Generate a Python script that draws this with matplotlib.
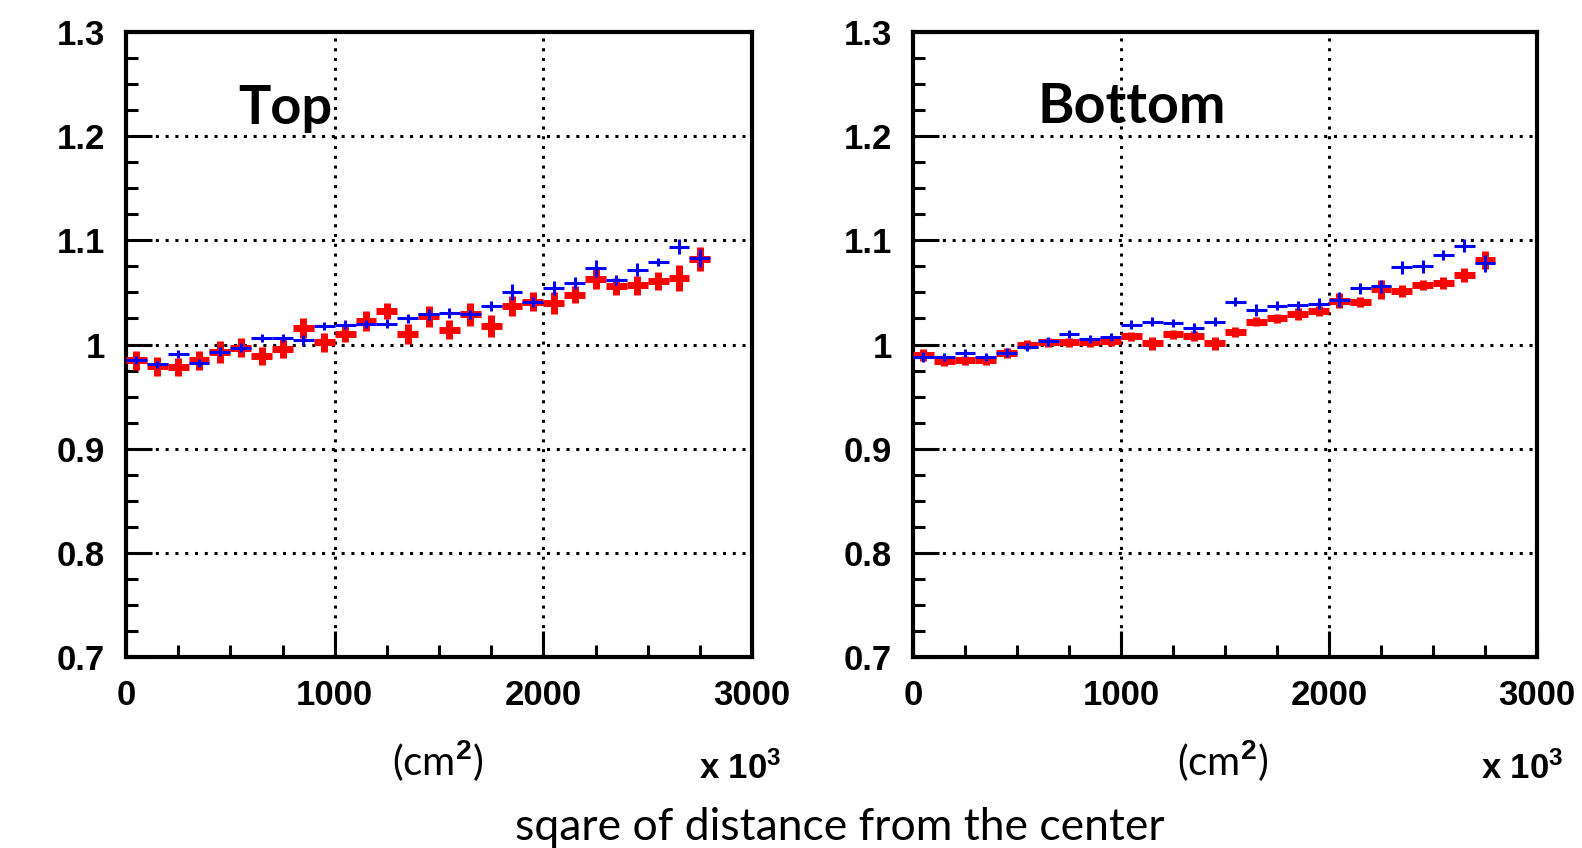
import matplotlib
matplotlib.use("Agg")
import matplotlib.pyplot as plt
from matplotlib.ticker import MultipleLocator, FixedLocator

# ---- data ----
bin_centers = [50, 150, 250, 350, 450, 550, 650, 750, 850, 950,
               1050, 1150, 1250, 1350, 1450, 1550, 1650, 1750, 1850, 1950,
               2050, 2150, 2250, 2350, 2450, 2550, 2650, 2750]
bin_half_width = 50

top_red = [0.985, 0.979, 0.978, 0.985, 0.993, 0.997, 0.989, 0.996, 1.016, 1.002,
           1.010, 1.023, 1.032, 1.010, 1.027, 1.014, 1.029, 1.018, 1.037, 1.041,
           1.040, 1.048, 1.063, 1.056, 1.057, 1.061, 1.064, 1.082]
top_red_err = [0.0091, 0.0091, 0.0087, 0.0091, 0.0104, 0.0093, 0.0083, 0.0093, 0.0093, 0.0088,
               0.0075, 0.0096, 0.0077, 0.0099, 0.0099, 0.0091, 0.0112, 0.0104, 0.0099, 0.0091,
               0.0106, 0.0084, 0.0099, 0.0080, 0.0091, 0.0088, 0.0123, 0.0112]
top_blue = [0.985, 0.981, 0.991, 0.982, 0.993, 0.997, 1.006, 1.006, 1.004, 1.018,
            1.019, 1.020, 1.020, 1.025, 1.029, 1.030, 1.029, 1.037, 1.050, 1.041,
            1.054, 1.059, 1.073, 1.062, 1.072, 1.079, 1.094, 1.083]
top_blue_err = [0.0037, 0.0032, 0.0035, 0.0040, 0.0045, 0.0043, 0.0037, 0.0040, 0.0048, 0.0040,
                0.0045, 0.0038, 0.0043, 0.0042, 0.0053, 0.0046, 0.0045, 0.0046, 0.0077, 0.0048,
                0.0067, 0.0058, 0.0084, 0.0048, 0.0060, 0.0038, 0.0072, 0.0084]

bot_red = [0.990, 0.984, 0.985, 0.985, 0.992, 1.000, 1.002, 1.002, 1.002, 1.003,
           1.008, 1.001, 1.010, 1.008, 1.001, 1.012, 1.022, 1.025, 1.029, 1.032,
           1.042, 1.041, 1.053, 1.051, 1.057, 1.059, 1.067, 1.081]
bot_red_err = [0.0058, 0.0045, 0.0043, 0.0043, 0.0051, 0.0045, 0.0043, 0.0043, 0.0043, 0.0043,
               0.0043, 0.0061, 0.0043, 0.0048, 0.0061, 0.0048, 0.0045, 0.0043, 0.0058, 0.0048,
               0.0072, 0.0048, 0.0091, 0.0058, 0.0048, 0.0058, 0.0067, 0.0085]
bot_blue = [0.988, 0.988, 0.992, 0.988, 0.992, 0.998, 1.003, 1.010, 1.005, 1.007,
            1.019, 1.022, 1.021, 1.016, 1.022, 1.041, 1.033, 1.037, 1.0375, 1.039,
            1.043, 1.054, 1.056, 1.074, 1.075, 1.086, 1.095, 1.078]
bot_blue_err = [0.0048, 0.0038, 0.0038, 0.0038, 0.0043, 0.0038, 0.0043, 0.0038, 0.0038, 0.0038,
                0.0043, 0.0043, 0.0038, 0.0051, 0.0045, 0.0045, 0.0058, 0.0043, 0.0045, 0.0053,
                0.0072, 0.0053, 0.0064, 0.0061, 0.0063, 0.0051, 0.0065, 0.0080]

panel_titles = ["Top", "Bottom"]
x_ticks = [0, 1000, 2000, 3000]
y_ticks = [0.7, 0.8, 0.9, 1.0, 1.1, 1.2, 1.3]
y_ticklabels = ["0.7", "0.8", "0.9", "1", "1.1", "1.2", "1.3"]
x_unit = "(cm$^{2}$)"
x_scale = "x 10$^{3}$"
x_label = "sqare of distance from the center"

# ---- style ----
tick_font = ["Liberation Sans", "DejaVu Sans"]
text_font = ["Lato", "DejaVu Sans"]

W, H = 1582, 848
fig = plt.figure(figsize=(W / 100, H / 100), dpi=100)

axes_px = [(126, 752), (913, 1537)]
y_top, y_bot = 32, 657

panels = [
    (top_red, top_red_err, top_blue, top_blue_err),
    (bot_red, bot_red_err, bot_blue, bot_blue_err),
]
title_pos = [(0.180, 0.853), (0.200, 0.855)]
title_sizes = [39, 40]

for i, ((x0, x1), (rv, re, bv, be)) in enumerate(zip(axes_px, panels)):
    ax = fig.add_axes([x0 / W, 1 - y_bot / H, (x1 - x0) / W, (y_bot - y_top) / H])
    ax.set_xlim(0, 3000)
    ax.set_ylim(0.7, 1.3)

    # grid (dotted)
    for gx in x_ticks[1:-1]:
        ax.axvline(gx, color="black", lw=2.2, linestyle=(0, (1.0, 2.2)),
                   dash_capstyle="butt", zorder=1)
    for gy in y_ticks[1:-1]:
        ax.axhline(gy, color="black", lw=2.2, linestyle=(0, (1.0, 2.2)),
                   dash_capstyle="butt", zorder=1)

    ax.errorbar(bin_centers, rv, xerr=bin_half_width, yerr=re, fmt="none",
                ecolor="#ff0000", elinewidth=5.0, capsize=0, zorder=3)
    ax.errorbar(bin_centers, bv, xerr=bin_half_width, yerr=be, fmt="none",
                ecolor="#0000ff", elinewidth=2.2, capsize=0, zorder=4)

    ax.xaxis.set_major_locator(FixedLocator(x_ticks))
    ax.xaxis.set_minor_locator(MultipleLocator(250))
    ax.yaxis.set_major_locator(FixedLocator(y_ticks))
    ax.yaxis.set_minor_locator(MultipleLocator(0.025))
    ax.set_xticklabels([str(t) for t in x_ticks])
    ax.set_yticklabels(y_ticklabels)

    ax.tick_params(which="both", direction="in", top=False, right=False, width=2.2,
                   color="black")
    ax.tick_params(which="major", length=19)
    ax.tick_params(which="minor", length=8.5)
    ax.tick_params(axis="x", which="major", pad=16)
    ax.tick_params(axis="y", which="major", pad=15)
    for lab in ax.get_xticklabels() + ax.get_yticklabels():
        lab.set_fontfamily(tick_font)
        lab.set_fontweight("bold")
        lab.set_fontsize(25)

    for sp in ax.spines.values():
        sp.set_linewidth(3.0)
        sp.set_color("black")

    ax.text(title_pos[i][0], title_pos[i][1], panel_titles[i], transform=ax.transAxes,
            fontsize=title_sizes[i], fontweight="bold", family=text_font,
            ha="left", va="baseline")

plt.rcParams["mathtext.fontset"] = "custom"
plt.rcParams["mathtext.rm"] = "Lato"
plt.rcParams["mathtext.it"] = "Lato"
# unit labels
for cx in (438, 1223):
    fig.text(cx / W, 1 - 775 / H, x_unit, ha="center", va="baseline",
             fontsize=29, family=text_font)

plt.rcParams["mathtext.rm"] = "Liberation Sans:bold"
plt.rcParams["mathtext.it"] = "Liberation Sans:bold"
for rx in (782, 1564):
    fig.text(rx / W, 1 - 779 / H, x_scale, ha="right", va="baseline",
             fontsize=25, fontweight="bold", family=tick_font,
             math_fontfamily="custom")

fig.text(840 / W, 1 - 840 / H, x_label, ha="center", va="baseline",
         fontsize=32, family=text_font)

fig.savefig("out.png", dpi=100, facecolor="white")
